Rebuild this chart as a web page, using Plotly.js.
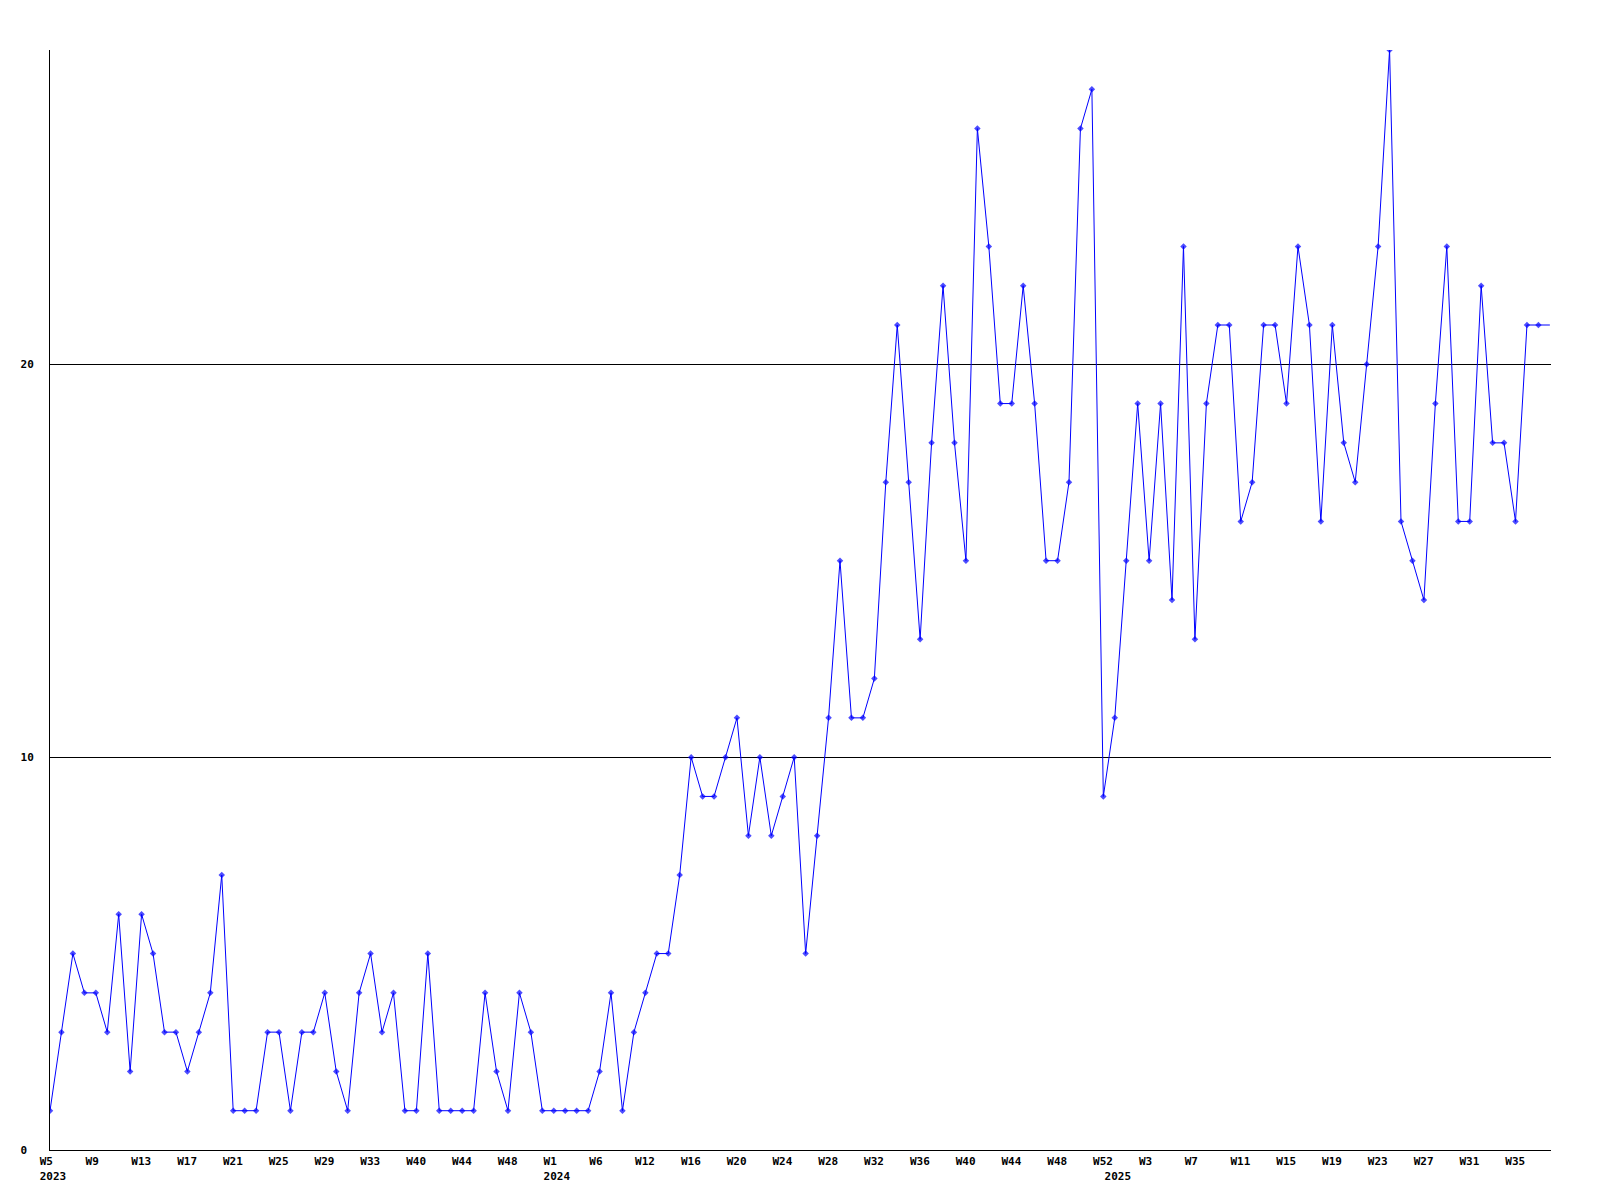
<!DOCTYPE html>
<html>
<head>
<meta charset="utf-8">
<script src="https://cdn.plot.ly/plotly-3.0.1.min.js"></script>
<style>html,body{margin:0;padding:0;background:#fff;}#chart{width:1600px;height:1200px;}</style>
</head>
<body>
<div id="chart"></div>
<script>
// Week categories (one per plotted point)
const weeks = [
  "2023-W05","2023-W06","2023-W07","2023-W08","2023-W09","2023-W10","2023-W11","2023-W12",
  "2023-W13","2023-W14","2023-W15","2023-W16","2023-W17","2023-W18","2023-W19","2023-W20",
  "2023-W21","2023-W22","2023-W23","2023-W24","2023-W25","2023-W26","2023-W27","2023-W28",
  "2023-W29","2023-W30","2023-W31","2023-W32","2023-W33","2023-W35","2023-W37","2023-W38",
  "2023-W40","2023-W41","2023-W42","2023-W43","2023-W44","2023-W45","2023-W46","2023-W47",
  "2023-W48","2023-W49","2023-W50","2023-W52","2024-W01","2024-W02","2024-W03","2024-W05",
  "2024-W06","2024-W07","2024-W09","2024-W10","2024-W12","2024-W13","2024-W14","2024-W15",
  "2024-W16","2024-W17","2024-W18","2024-W19","2024-W20","2024-W21","2024-W22","2024-W23",
  "2024-W24","2024-W25","2024-W26","2024-W27","2024-W28","2024-W29","2024-W30","2024-W31",
  "2024-W32","2024-W33","2024-W34","2024-W35","2024-W36","2024-W37","2024-W38","2024-W39",
  "2024-W40","2024-W41","2024-W42","2024-W43","2024-W44","2024-W45","2024-W46","2024-W47",
  "2024-W48","2024-W49","2024-W50","2024-W51","2024-W52","2025-W00","2025-W01","2025-W02",
  "2025-W03","2025-W04","2025-W05","2025-W06","2025-W07","2025-W08","2025-W09","2025-W10",
  "2025-W11","2025-W12","2025-W13","2025-W14","2025-W15","2025-W16","2025-W17","2025-W18",
  "2025-W19","2025-W20","2025-W21","2025-W22","2025-W23","2025-W24","2025-W25","2025-W26",
  "2025-W27","2025-W28","2025-W29","2025-W30","2025-W31","2025-W32","2025-W33","2025-W34",
  "2025-W35","2025-W36","2025-W37","2025-W38"
];

// Weekly counts
const counts = [
  1,3,5,4,4,3,6,2,6,5,3,3,2,3,4,7,1,1,1,3,3,1,3,3,4,2,1,4,5,3,
  4,1,1,5,1,1,1,1,4,2,1,4,3,1,1,1,1,1,2,4,1,3,4,5,5,7,
  10,9,9,10,11,8,10,8,9,10,5,8,11,15,11,11,12,
  17,21,17,13,18,22,18,15,26,23,19,19,22,19,15,15,17,26,27,9,11,15,19,15,19,14,23,13,
  19,21,21,16,17,21,21,19,23,21,16,21,18,17,20,23,28,16,15,14,19,23,16,16,22,18,18,16,21,21,21
];

// Labelled x ticks
const xTickWeeks = [
  "2023-W05","2023-W09","2023-W13","2023-W17","2023-W21","2023-W25","2023-W29","2023-W33",
  "2023-W40","2023-W44","2023-W48","2024-W01","2024-W06","2024-W12","2024-W16","2024-W20",
  "2024-W24","2024-W28","2024-W32","2024-W36","2024-W40","2024-W44","2024-W48","2024-W52",
  "2025-W00","2025-W03","2025-W07","2025-W11","2025-W15","2025-W19","2025-W23","2025-W27",
  "2025-W31","2025-W35"
];
const xTickLabels = [
  "W5","W9","W13","W17","W21","W25","W29","W33",
  "W40","W44","W48","W1","W6","W12","W16","W20",
  "W24","W28","W32","W36","W40","W44","W48","W52",
  "","W3","W7","W11","W15","W19","W23","W27",
  "W31","W35"
];
const xTickYears = [
  "2023","","","","","","","",
  "","","","2024","","","","",
  "","","","","","","","",
  "2025","","","","","","","",
  "",""
];

// y ticks
const yTickVals = [0, 10, 20];
const yTickLabels = ["0", "10", "20"];

const NB = "\u00a0";
function pad(s, n) { while (s.length < n) s += NB; return s; }
const xTickText = xTickLabels.map((l, i) => {
  const y = xTickYears[i];
  if (y) return pad(l === "" ? NB : l, 4) + "<br>" + y;
  return pad(l, 4);
});
const yTickText = yTickLabels.map(s => pad(s, 2));

// the final point is drawn as a line end only (no marker), as in the source
const markerSizes = counts.map((_, i) => (i === counts.length - 1 ? 0 : 5));

const font = {family: "DejaVu Sans Mono, monospace", size: 11, color: "#000", weight: "bold"};

const trace = {
  type: "scatter",
  mode: "lines+markers",
  x: weeks,
  y: counts,
  line: {color: "#0000ff", width: 1},
  marker: {color: "#0000ff", symbol: "diamond", size: markerSizes, line: {width: 0}},
  cliponaxis: true,
  hoverinfo: "x+y"
};

const layout = {
  width: 1600,
  height: 1200,
  margin: {l: 50, r: 49, t: 50, b: 50, pad: 0},
  paper_bgcolor: "#ffffff",
  plot_bgcolor: "#ffffff",
  showlegend: false,
  font: font,
  xaxis: {
    type: "category",
    categoryorder: "array",
    categoryarray: weeks,
    range: [0, 131.1],
    tickmode: "array",
    tickvals: xTickWeeks,
    ticktext: xTickText,
    ticks: "",
    showgrid: false,
    zeroline: false,
    showline: true,
    linecolor: "#000",
    linewidth: 1,
    tickangle: 0,
    tickfont: font,
    ticklabelshift: 3,
    ticklabelstandoff: 1,
    automargin: false
  },
  yaxis: {
    range: [0, 28],
    tickmode: "array",
    tickvals: yTickVals,
    ticktext: yTickText,
    ticks: "",
    showgrid: true,
    gridcolor: "#000",
    gridwidth: 1,
    zeroline: false,
    showline: true,
    linecolor: "#000",
    linewidth: 1,
    tickfont: font,
    ticklabelstandoff: 13,
    automargin: false
  }
};

Plotly.newPlot("chart", [trace], layout, {staticPlot: true, displayModeBar: false});
</script>
</body>
</html>
